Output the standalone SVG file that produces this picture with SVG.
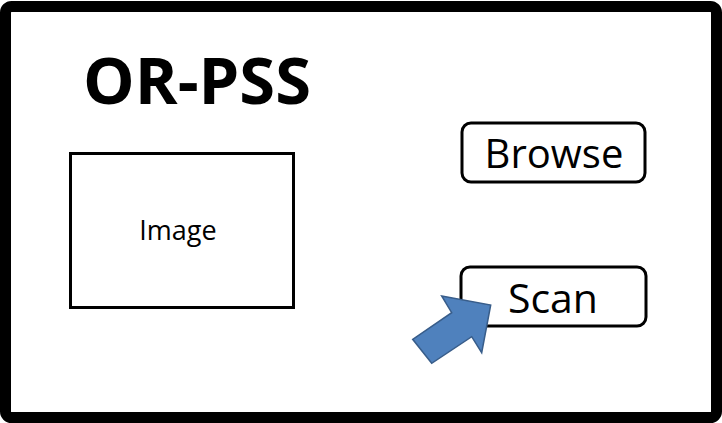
<svg xmlns="http://www.w3.org/2000/svg" width="722" height="423" viewBox="0 0 722 423">
  <style>
    .box { fill: #ffffff; stroke: #000000; stroke-width: 3; }
    .lbl { font-family: "Open Sans", "Liberation Sans", sans-serif; fill: #000000; text-anchor: middle; }
    .arrow { fill: #4f81bd; stroke: #385d8a; stroke-width: 1.5; stroke-linejoin: miter; }
  </style>
  <rect x="0" y="0" width="722" height="423" fill="#ffffff"/>
  <g id="frame">
    <rect x="5.5" y="6.5" width="711" height="411" rx="6" fill="#ffffff" stroke="#000000" stroke-width="11"/>
  </g>
  <g id="title">
    <text class="lbl" x="197" y="104" font-size="65" font-weight="bold">OR-PSS</text>
  </g>
  <g id="image">
    <rect class="box" x="70.5" y="153.5" width="223" height="154"/>
    <text class="lbl" x="178" y="240" font-size="27">Image</text>
  </g>
  <g id="browse">
    <rect class="box" x="462" y="123" width="183" height="59" rx="9"/>
    <text class="lbl" x="554" y="168" font-size="40">Browse</text>
  </g>
  <g id="scan">
    <rect class="box" x="461" y="267" width="185" height="59" rx="9"/>
    <text class="lbl" x="553" y="313" font-size="41">Scan</text>
  </g>
  <g id="connectors">
    <path class="arrow" d="M441.7,296 L490.7,305 L481.7,352.7 L471.7,336.7 L431.7,363.3 L412.7,339.3 L451.7,312.7 Z"/>
  </g>
</svg>
